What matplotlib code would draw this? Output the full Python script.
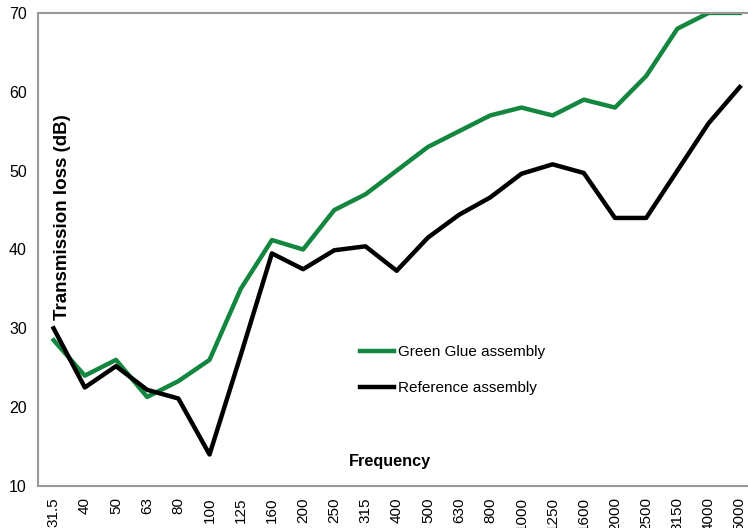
import matplotlib
matplotlib.use("Agg")
import matplotlib.pyplot as plt

plt.rcParams['font.family'] = ['Liberation Sans', 'DejaVu Sans']

freqs = ['31.5', '40', '50', '63', '80', '100', '125', '160', '200', '250', '315', '400',
         '500', '630', '800', '1000', '1250', '1600', '2000', '2500', '3150', '4000', '5000']
green_glue = [28.5, 24, 26, 21.3, 23.3, 26, 35, 41.2, 40, 45, 47, 50,
              53, 55, 57, 58, 57, 59, 58, 62, 68, 70, 70]
reference = [30, 22.5, 25.2, 22.2, 21.1, 14, 26.6, 39.5, 37.5, 39.9, 40.4, 37.3,
             41.5, 44.4, 46.6, 49.6, 50.8, 49.7, 44, 44, 50, 56, 60.6]

fig = plt.figure(figsize=(7.48, 5.28), dpi=100)
ax = fig.add_axes([0.0508, 0.0795, 0.959, 0.896])

x = range(len(freqs))
ax.plot(x, green_glue, color='#13873f', lw=3.2, label='Green Glue assembly')
ax.plot(x, reference, color='black', lw=3.2, label='Reference assembly')

ax.set_xlim(-0.5, len(freqs) - 0.5)
ax.set_ylim(10, 70)
ax.set_yticks(range(10, 71, 10))
ax.set_xticks(list(x))
ax.set_xticklabels(freqs, rotation=90, fontsize=11)
ax.tick_params(axis='y', labelsize=11.5, length=0, pad=8)
ax.tick_params(axis='x', length=0, pad=8)

for s in ['left', 'top', 'bottom']:
    ax.spines[s].set_color('#999999')
    ax.spines[s].set_linewidth(1.5)
ax.spines['right'].set_visible(False)

ax.text(0.491, 0.051, 'Frequency', transform=ax.transAxes, fontsize=11.7,
        fontweight='bold', ha='center', va='center')
ax.text(0.034, 0.569, 'Transmission loss (dB)', transform=ax.transAxes, fontsize=13.5,
        fontweight='bold', rotation=90, ha='center', va='center')

ax.legend(loc='upper left', bbox_to_anchor=(0.43, 0.327), frameon=False, fontsize=11,
          handlelength=2.2, handletextpad=0.3, labelspacing=1.45)

fig.savefig('out.png', dpi=100)
